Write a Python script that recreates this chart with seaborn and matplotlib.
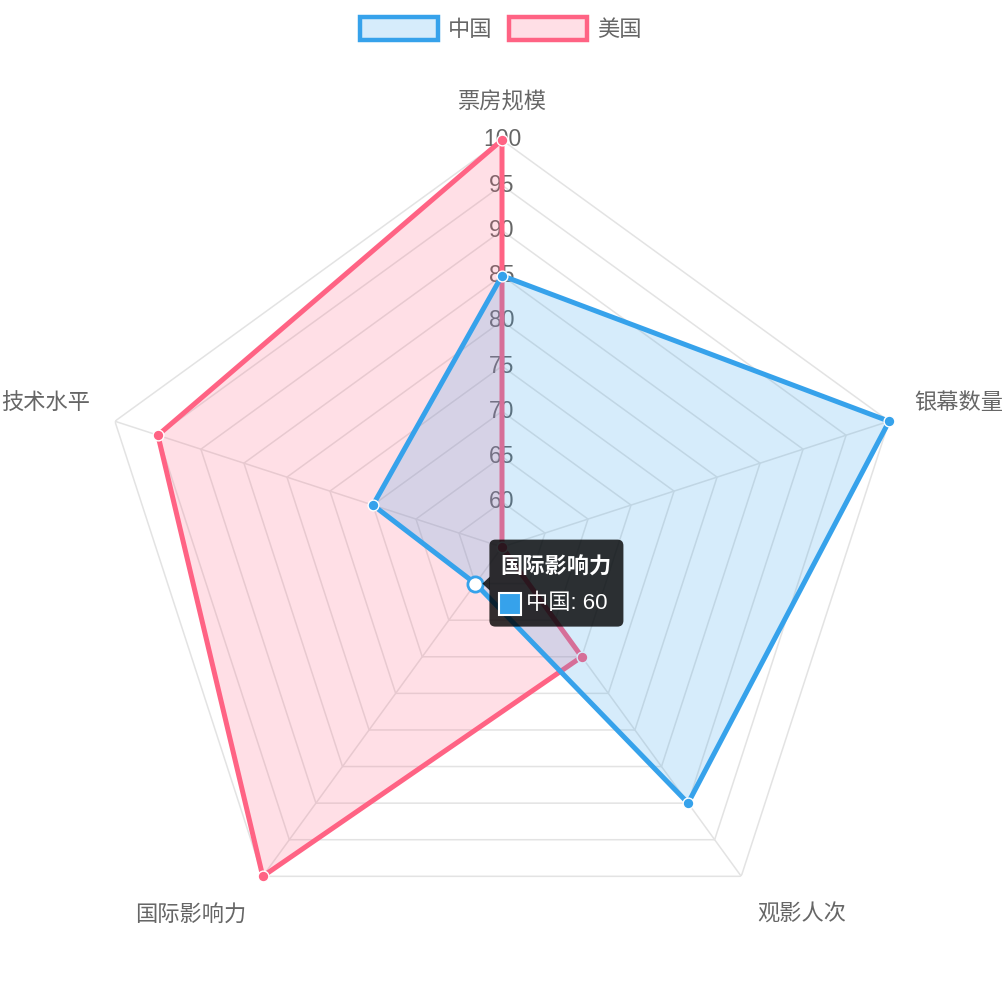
import numpy as np
import matplotlib
matplotlib.use('Agg')
import matplotlib.pyplot as plt
import seaborn as sns
from matplotlib.patches import Patch, FancyBboxPatch, Polygon, Rectangle

# data
categories = ['票房规模', '银幕数量', '观影人次', '国际影响力', '技术水平']
china = [85, 100, 90, 60, 70]
usa = [100, 55, 70, 100, 95]
ticks = [60, 65, 70, 75, 80, 85, 90, 95, 100]
r_min, r_max = 55, 100

blue, blue_fill = '#36a2eb', (0.212, 0.635, 0.922, 0.2)
pink, pink_fill = '#ff6384', (1.0, 0.388, 0.518, 0.2)
text_gray = '#666666'
grid_gray = '#e3e3e3'

sns.set_theme(style='white')
plt.rcParams['font.family'] = ['Liberation Sans', 'Noto Sans CJK SC']

fig = plt.figure(figsize=(10.05, 10.05), dpi=100)
ax = fig.add_axes([0.0945, 0.0507, 0.81, 0.81], projection='polar')
ax.set_theta_offset(np.pi / 2)
ax.set_theta_direction(-1)
ax.set_ylim(r_min, r_max)
ax.grid(False)
ax.spines['polar'].set_visible(False)
ax.set_xticks([])
ax.set_yticks([])
ax.patch.set_alpha(0)

theta = np.linspace(0, 2 * np.pi, len(categories), endpoint=False)
closed = np.append(theta, theta[0])

# polygon grid + spokes
for t in ticks:
    ax.plot(closed, [t] * len(closed), color=grid_gray, lw=1.1, zorder=1)
for th in theta:
    ax.plot([th, th], [r_min, r_max], color=grid_gray, lw=1.1, zorder=1)

# radial tick labels
for t in ticks:
    ax.text(0, t, str(t), ha='center', va='center', color=text_gray,
            fontsize=16.5, zorder=1.5, clip_on=False)

# point labels
offsets = [(0, 37, 'center'), (25, 18, 'left'), (16, -39, 'left'),
           (-16, -40, 'right'), (-25, 18, 'right')]
for th, name, (dx, dy, ha) in zip(theta, categories, offsets):
    ax.annotate(name, xy=(th, r_max), xytext=(dx, dy), textcoords='offset pixels',
                ha=ha, va='center', color=text_gray, fontsize=16,
                annotation_clip=False)

# datasets: 美国 drawn first, 中国 on top
series = [('美国', usa, pink, pink_fill), ('中国', china, blue, blue_fill)]
for i, (name, vals, line_c, fill_c) in enumerate(series):
    v = np.append(vals, vals[0])
    z = 2 + i * 3
    ax.fill(closed, v, color=fill_c, lw=0, zorder=z)
    ax.plot(closed, v, color=line_c, lw=3.6, zorder=z + 1, solid_joinstyle='miter')
    sns.scatterplot(x=theta, y=vals, ax=ax, color=line_c, s=60,
                    edgecolor='white', linewidth=1, zorder=z + 2, clip_on=False)

# hovered point
hi = categories.index('国际影响力')
ax.scatter([theta[hi]], [china[hi]], s=120, facecolor='white', edgecolor=blue,
           linewidth=2, zorder=10)

# tooltip
px, py = ax.transData.transform((theta[hi], china[hi]))
tip_bg = (0, 0, 0, 0.8)
box = FancyBboxPatch((px + 20, py - 37), 122, 75,
                     boxstyle='round,pad=6,rounding_size=6',
                     transform=None, facecolor=tip_bg, edgecolor='none', zorder=20)
fig.patches.append(box)
caret = Polygon([(px + 7, py), (px + 14.5, py + 7), (px + 14.5, py - 7)],
                closed=True, transform=None, facecolor=tip_bg, edgecolor='none', zorder=20)
fig.patches.append(caret)
swatch = Rectangle((px + 24, py - 31), 22, 22, transform=None, facecolor=blue,
                   edgecolor='white', lw=1.5, zorder=21)
fig.patches.append(swatch)
fig.text(px + 25, py + 16, categories[hi], transform=None, color='white',
         fontsize=16, fontweight='bold', ha='left', va='center', zorder=22)
fig.text(px + 51, py - 20, f'中国: {china[hi]}', transform=None, color='white',
         fontsize=16, ha='left', va='center', zorder=22)

# legend
handles = [Patch(facecolor=blue_fill, edgecolor=blue, lw=3.2, label='中国'),
           Patch(facecolor=pink_fill, edgecolor=pink, lw=3.2, label='美国')]
fig.legend(handles=handles, loc='center', bbox_to_anchor=(0.498, 0.971), ncol=2,
           frameon=False, fontsize=16, labelcolor=text_gray,
           handlelength=3.5, handleheight=1.2, handletextpad=0.45, columnspacing=0.75)

fig.savefig('out.png', dpi=100)
